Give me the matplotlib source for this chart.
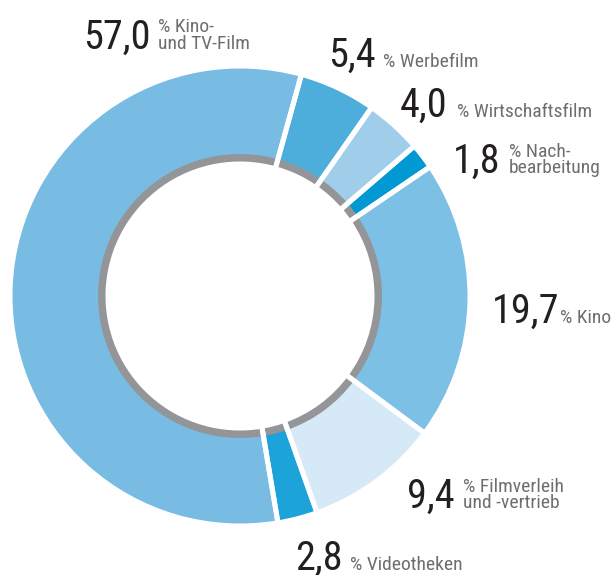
import matplotlib.pyplot as plt

# data
werte = [5.4, 4.0, 1.8, 19.7, 9.4, 2.8, 57.0]
zahlen = ['5,4', '4,0', '1,8', '19,7', '9,4', '2,8', '57,0']
texte = [['% Werbefilm'], ['% Wirtschaftsfilm'], ['% Nach-', 'bearbeitung'], ['% Kino'],
         ['% Filmverleih', 'und -vertrieb'], ['% Videotheken'], ['% Kino-', 'und TV-Film']]
farben = ['#4eaedb', '#9fcdea', '#0099d4', '#7dc0e5', '#d5e9f6', '#1ba3da', '#78bce3']

# label positions in pixels (left x of number, baseline y, x of text, baselines of text lines)
lab_pos = [
    (328, 67, 383, [67]),
    (400, 117, 457, [117]),
    (453, 173, 509, [157, 173]),
    (492, 323, 560, [323]),
    (407, 508, 463, [492, 508]),
    (295, 570, 350, [570]),
    (83, 49, 158, [32, 49]),
]

W, H = 612, 575
fig = plt.figure(figsize=(W / 100, H / 100), dpi=100)
ax = fig.add_axes([0, 0, 1, 1])

cx, cy = 240, H - 296
r_out, r_grau, r_in = 230, 142, 132
lw = 3.6
start = 90 - 15.5

# coloured ring
ax.pie(werte, radius=r_out, center=(cx, cy), colors=farben, counterclock=False,
       startangle=start, wedgeprops=dict(width=r_out - r_in, linewidth=0))
# grey inner band
ax.pie(werte, radius=r_grau, center=(cx, cy), colors=['#939598'] * len(werte),
       counterclock=False, startangle=start, wedgeprops=dict(width=r_grau - r_in, linewidth=0))
# white gaps
ax.pie(werte, radius=r_out, center=(cx, cy), colors=['none'] * len(werte),
       counterclock=False, startangle=start,
       wedgeprops=dict(width=r_out - r_in, linewidth=lw, edgecolor='white'))

fam = ['Roboto Condensed', 'DejaVu Sans']
for z, t, (xn, yn, xt, yts) in zip(zahlen, texte, lab_pos):
    ax.text(xn, H - yn, z, fontsize=29, color='#231f20', family=fam,
            ha='left', va='baseline')
    for line, yt in zip(t, yts):
        ax.text(xt, H - yt, line, fontsize=14, color='#6d6e71', family=fam,
                ha='left', va='baseline')

ax.set_xlim(0, W)
ax.set_ylim(0, H)
ax.set_aspect('equal')
ax.axis('off')

fig.savefig('out.png', dpi=100)
